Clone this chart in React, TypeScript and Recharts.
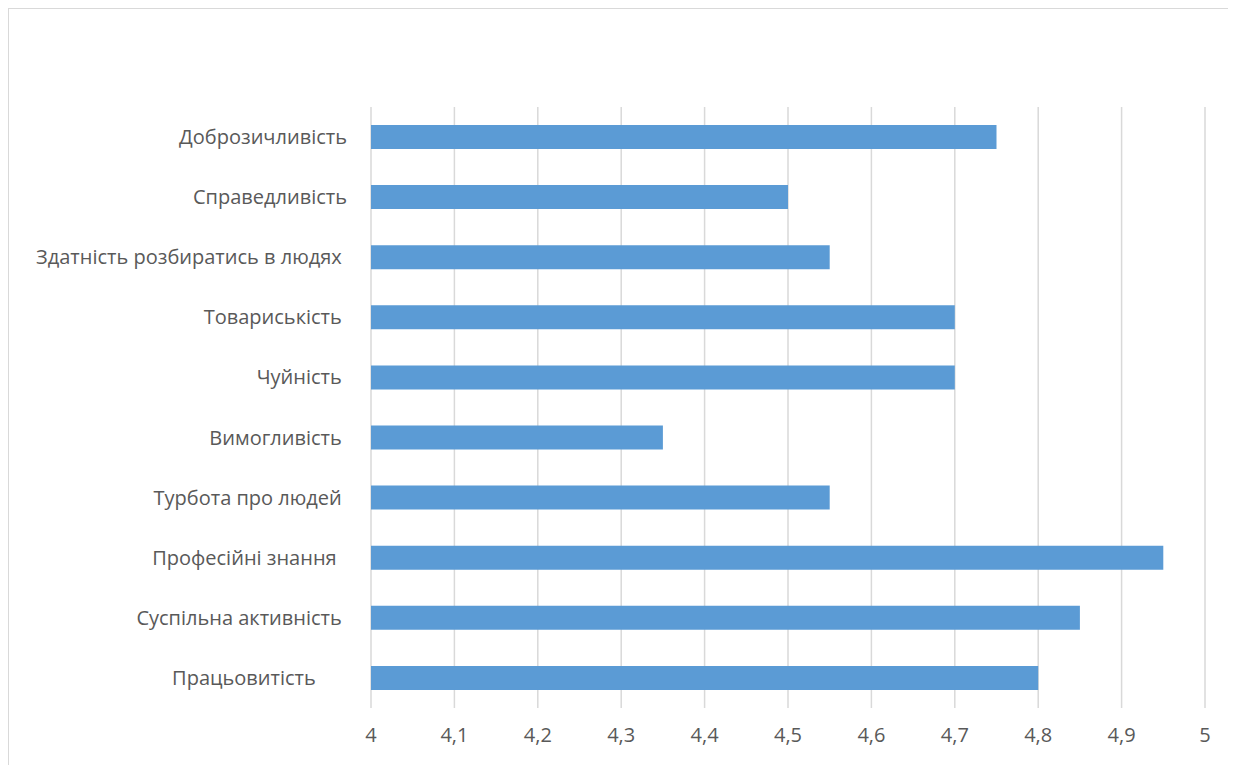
import { BarChart, Bar, XAxis, YAxis, CartesianGrid } from "recharts";

const traits = [
  "Доброзичливість",
  "Справедливість",
  "Здатність розбиратись в людях ",
  "Товариськість ",
  "Чуйність ",
  "Вимогливість ",
  "Турбота про людей ",
  "Професійні знання  ",
  "Суспільна активність ",
  "Працьовитість      ",
];

const scores = [4.75, 4.5, 4.55, 4.7, 4.7, 4.35, 4.55, 4.95, 4.85, 4.8];

const xTicks = [4, 4.1, 4.2, 4.3, 4.4, 4.5, 4.6, 4.7, 4.8, 4.9, 5];

const data = traits.map((name, i) => ({ name, score: scores[i] }));

const FONT = "'Open Sans', sans-serif";

const CategoryTick = (props: any) => {
  const { x, y, payload } = props;
  return (
    <text
      x={x}
      y={y}
      dy="0.35em"
      textAnchor="end"
      fill="#595959"
      fontSize={20}
      fontFamily={FONT}
      style={{ whiteSpace: "pre" }}
    >
      {payload.value}
    </text>
  );
};

const App = () => {
  return (
    <div
      style={{
        width: 1240,
        height: 760,
        borderLeft: "1px solid #d9d9d9",
        borderTop: "1px solid #d9d9d9",
        background: "#fff",
      }}
    >
      <BarChart
        width={1227}
        height={756}
        data={data}
        layout="vertical"
        margin={{ top: 98, right: 31, bottom: 0, left: 0 }}
        barCategoryGap={0}
      >
        <CartesianGrid
          horizontal={false}
          stroke="#d9d9d9"
          strokeWidth={1.5}
        />
        <XAxis
          type="number"
          domain={[4, 5]}
          ticks={xTicks}
          allowDataOverflow
          axisLine={false}
          tickLine={false}
          tickSize={0}
          tickMargin={20}
          height={57}
          tickFormatter={(v: number) => String(v).replace(".", ",")}
          tick={{ fill: "#595959", fontSize: 20, fontFamily: FONT }}
        />
        <YAxis
          type="category"
          dataKey="name"
          width={362}
          axisLine={false}
          tickLine={false}
          tickSize={0}
          tickMargin={24}
          tick={<CategoryTick />}
          interval={0}
        />
        <Bar
          dataKey="score"
          fill="#5b9bd5"
          barSize={24}
          isAnimationActive={false}
        />
      </BarChart>
    </div>
  );
};

export default App;
